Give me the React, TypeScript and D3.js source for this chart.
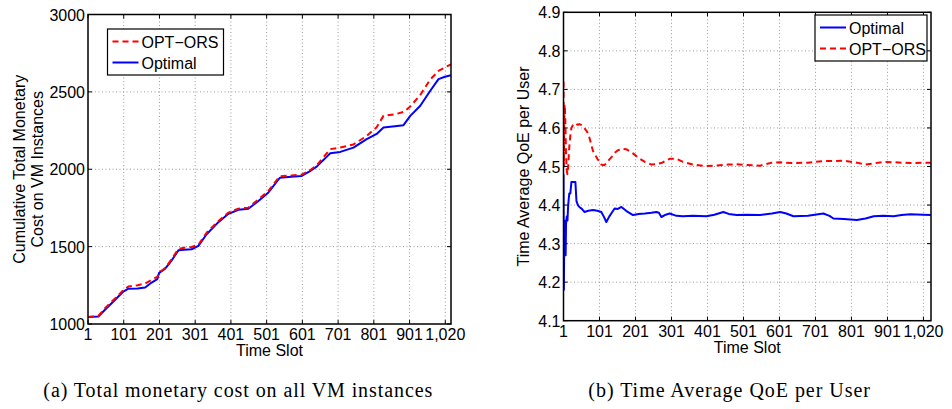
import React from "react";
import * as d3 from "d3";

// ---------- Data ----------
const costT = [1, 30, 50, 70, 86, 100, 114, 140, 161, 179, 195, 200, 217, 235, 254, 270, 291, 310, 333, 366, 394, 422, 450, 478, 506, 538, 570, 599, 620, 641, 679, 707, 744, 781, 809, 828, 860, 884, 903, 931, 959, 982, 1000, 1017];
const costOptimal = [1045, 1048, 1095, 1140, 1178, 1210, 1228, 1230, 1236, 1268, 1290, 1330, 1358, 1410, 1476, 1480, 1483, 1505, 1580, 1658, 1712, 1738, 1745, 1795, 1850, 1945, 1952, 1957, 1985, 2017, 2103, 2112, 2140, 2195, 2228, 2270, 2278, 2285, 2345, 2410, 2507, 2582, 2598, 2608];
const costOptOrs = [1045, 1052, 1105, 1150, 1185, 1220, 1242, 1250, 1262, 1285, 1305, 1332, 1362, 1418, 1485, 1493, 1498, 1512, 1590, 1665, 1720, 1745, 1752, 1805, 1860, 1955, 1960, 1965, 1990, 2025, 2130, 2140, 2160, 2215, 2272, 2345, 2355, 2370, 2405, 2480, 2580, 2635, 2658, 2678];

const qoeT = [1, 2, 3, 4, 5, 6, 7, 8, 10, 12, 14, 17, 20, 23, 27, 31, 34, 37, 41, 45, 52, 59, 70, 83, 95, 106, 113, 120, 128, 135, 143, 152, 162, 175, 194, 210, 227, 245, 259, 266, 273, 285, 296, 315, 333, 360, 398, 420, 445, 460, 482, 510, 547, 580, 603, 620, 640, 680, 723, 740, 751, 780, 816, 840, 863, 890, 918, 940, 965, 1000, 1022];
const qoeOptimal = [4.48, 4.18, 4.30, 4.36, 4.34, 4.27, 4.27, 4.35, 4.37, 4.36, 4.40, 4.43, 4.43, 4.46, 4.46, 4.46, 4.46, 4.41, 4.40, 4.395, 4.39, 4.382, 4.385, 4.387, 4.385, 4.382, 4.37, 4.356, 4.37, 4.38, 4.391, 4.39, 4.395, 4.385, 4.374, 4.377, 4.378, 4.38, 4.382, 4.38, 4.369, 4.375, 4.378, 4.372, 4.371, 4.372, 4.371, 4.375, 4.382, 4.377, 4.374, 4.375, 4.374, 4.378, 4.382, 4.378, 4.371, 4.372, 4.378, 4.372, 4.365, 4.364, 4.361, 4.365, 4.371, 4.372, 4.371, 4.374, 4.376, 4.375, 4.374];
const qoeOptOrs = [4.72, 4.50, 4.60, 4.66, 4.65, 4.62, 4.58, 4.53, 4.49, 4.48, 4.50, 4.55, 4.58, 4.60, 4.607, 4.611, 4.612, 4.61, 4.608, 4.61, 4.607, 4.60, 4.585, 4.54, 4.52, 4.505, 4.503, 4.508, 4.518, 4.525, 4.535, 4.542, 4.546, 4.545, 4.534, 4.522, 4.512, 4.505, 4.506, 4.508, 4.509, 4.515, 4.52, 4.52, 4.512, 4.505, 4.501, 4.502, 4.504, 4.505, 4.506, 4.504, 4.502, 4.51, 4.511, 4.51, 4.509, 4.51, 4.514, 4.514, 4.514, 4.515, 4.51, 4.505, 4.508, 4.512, 4.511, 4.51, 4.509, 4.51, 4.51];

const xTickValues = [1, 101, 201, 301, 401, 501, 601, 701, 801, 901, 1001];
const xTickLabels = ["1", "101", "201", "301", "401", "501", "601", "701", "801", "901", "1,020"];
const costTicks = [1000, 1500, 2000, 2500, 3000];
const qoeTicks = [4.1, 4.2, 4.3, 4.4, 4.5, 4.6, 4.7, 4.8, 4.9];

const RED = "#ff0000";
const BLUE = "#0000ff";
const SANS = "'Liberation Sans', Arial, Helvetica, sans-serif";
const SERIF = "'Liberation Serif', 'Times New Roman', serif";

type Series = { t: number[]; v: number[]; color: string; dashed: boolean; name: string };

function Panel(props: {
  id: string;
  x0: number; x1: number; y0: number; y1: number;
  xMax: number;
  yDomain: [number, number];
  yTicks: number[];
  yFmt: (v: number) => string;
  series: Series[];
  legendOrder: Series[];
  legend: { x: number; y: number; w: number; h: number };
  ylabelLines: string[];
  ylabelX: number[];
}) {
  const { x0, x1, y0, y1 } = props;
  const xs = d3.scaleLinear().domain([1, props.xMax]).range([x0, x1]);
  const ys = d3.scaleLinear().domain(props.yDomain).range([y1, y0]);
  const tick = 4;
  const cy = (y0 + y1) / 2;
  return (
    <g>
      <defs>
        <clipPath id={props.id}>
          <rect x={x0} y={y0 - 1} width={x1 - x0} height={y1 - y0 + 2} />
        </clipPath>
      </defs>
      {xTickValues.filter((v) => v !== 1).map((v) => (
        <line key={"gx" + v} x1={xs(v)} x2={xs(v)} y1={y0} y2={y1} stroke="#9a9a9a" strokeWidth={1} strokeDasharray="1,2.5" />
      ))}
      {props.yTicks.filter((v, i) => i !== 0 && i !== props.yTicks.length - 1).map((v) => (
        <line key={"gy" + v} x1={x0} x2={x1} y1={ys(v)} y2={ys(v)} stroke="#9a9a9a" strokeWidth={1} strokeDasharray="1,2.5" />
      ))}
      <g clipPath={`url(#${props.id})`}>
        {props.series.map((s) => {
          const pts = s.t.map((t, i) => [t, s.v[i]] as [number, number]);
          const line = d3.line<[number, number]>().x((d) => xs(d[0])).y((d) => ys(d[1]));
          return (
            <path key={s.name} d={line(pts) || ""} fill="none" stroke={s.color} strokeWidth={2}
              strokeDasharray={s.dashed ? "6,4" : undefined} strokeLinejoin="round" />
          );
        })}
      </g>
      {xTickValues.map((v) => (
        <g key={"tx" + v}>
          <line x1={xs(v)} x2={xs(v)} y1={y1} y2={y1 - tick} stroke="#000" />
          <line x1={xs(v)} x2={xs(v)} y1={y0} y2={y0 + tick} stroke="#000" />
        </g>
      ))}
      {props.yTicks.map((v) => (
        <g key={"ty" + v}>
          <line x1={x0} x2={x0 + tick} y1={ys(v)} y2={ys(v)} stroke="#000" />
          <line x1={x1} x2={x1 - tick} y1={ys(v)} y2={ys(v)} stroke="#000" />
        </g>
      ))}
      <rect x={x0} y={y0} width={x1 - x0} height={y1 - y0} fill="none" stroke="#000" strokeWidth={1.5} />
      {xTickValues.map((v, i) => (
        <text key={"lx" + v} x={xs(v)} y={y1 + 16} textAnchor="middle" fontFamily={SANS} fontSize={16} fill="#000">
          {xTickLabels[i]}
        </text>
      ))}
      {props.yTicks.map((v) => (
        <text key={"ly" + v} x={x0 - 3} y={ys(v) + 6} textAnchor="end" fontFamily={SANS} fontSize={16} fill="#000">
          {props.yFmt(v)}
        </text>
      ))}
      <text x={(x0 + x1) / 2} y={y1 + 32} textAnchor="middle" fontFamily={SANS} fontSize={16} fill="#000">Time Slot</text>
      {props.ylabelLines.map((l, i) => (
        <text key={"yl" + i} transform={`translate(${props.ylabelX[i]},${cy}) rotate(-90)`} textAnchor="middle"
          fontFamily={SANS} fontSize={16} fill="#000">{l}</text>
      ))}
      <rect x={props.legend.x} y={props.legend.y} width={props.legend.w} height={props.legend.h} fill="#fff" stroke="#000" strokeWidth={1.2} />
      {props.legendOrder.map((s, i) => {
        const ly = props.legend.y + 12.5 + i * 21;
        return (
          <g key={"lg" + s.name}>
            <line x1={props.legend.x + 5} x2={props.legend.x + 31} y1={ly} y2={ly} stroke={s.color} strokeWidth={2}
              strokeDasharray={s.dashed ? "6,4" : undefined} />
            <text x={props.legend.x + 34} y={ly + 6} fontFamily={SANS} fontSize={16} fill="#000">{s.name}</text>
          </g>
        );
      })}
    </g>
  );
}

export default function App() {
  const cOpt: Series = { t: costT, v: costOptimal, color: BLUE, dashed: false, name: "Optimal" };
  const cOrs: Series = { t: costT, v: costOptOrs, color: RED, dashed: true, name: "OPT\u2212ORS" };
  const qOpt: Series = { t: qoeT, v: qoeOptimal, color: BLUE, dashed: false, name: "Optimal" };
  const qOrs: Series = { t: qoeT, v: qoeOptOrs, color: RED, dashed: true, name: "OPT\u2212ORS" };
  return (
    <svg width={952} height={409} style={{ position: "absolute", left: 0, top: 0, background: "#fff" }}>
      <rect x={0} y={0} width={952} height={409} fill="#fff" />
      <Panel id="clipA" x0={88} x1={451} y0={14.5} y1={324} xMax={1017}
        yDomain={[1000, 3000]} yTicks={costTicks} yFmt={(v) => String(v)}
        series={[cOpt, cOrs]} legendOrder={[cOrs, cOpt]}
        legend={{ x: 107.5, y: 29, w: 116, h: 46 }}
        ylabelLines={["Cumulative Total Monetary", "Cost on VM Instances"]} ylabelX={[25, 43]} />
      <Panel id="clipB" x0={563.5} x1={931} y0={12.3} y1={320.7} xMax={1022}
        yDomain={[4.1, 4.9]} yTicks={qoeTicks} yFmt={(v) => v.toFixed(1)}
        series={[qOpt, qOrs]} legendOrder={[qOpt, qOrs]}
        legend={{ x: 815, y: 15, w: 112, h: 46 }}
        ylabelLines={["Time Average QoE per User"]} ylabelX={[529]} />
      <text x={43.3} y={396.5} fontFamily={SERIF} fontSize={20} fill="#000" textLength={389} lengthAdjust="spacing">
        (a)  Total monetary cost on all VM instances
      </text>
      <text x={588.3} y={396.5} fontFamily={SERIF} fontSize={20} fill="#000" textLength={281.7} lengthAdjust="spacing">
        (b)  Time Average QoE per User
      </text>
    </svg>
  );
}
